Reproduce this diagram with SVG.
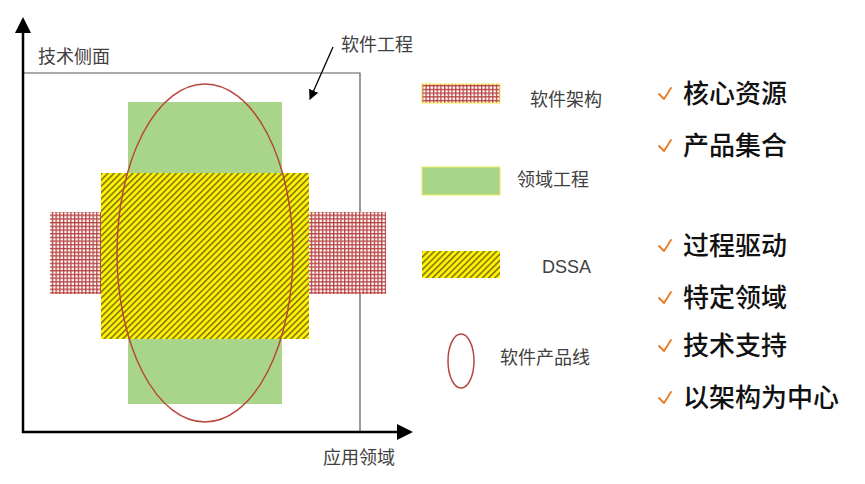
<svg xmlns="http://www.w3.org/2000/svg" width="865" height="484" viewBox="0 0 865 484">
<style>
.lbl{font-family:"Liberation Sans","Noto Sans CJK SC",sans-serif;font-size:18px;fill:#404040}
.item{font-family:"Noto Sans CJK SC",sans-serif;font-size:26px;font-weight:500;fill:#111}
.chk{fill:none;stroke:#E87722;stroke-width:1.8;stroke-linecap:round;stroke-linejoin:round}
.axis{stroke:#000;stroke-width:2.5}
.green{fill:#A9D58A}
.hatch{fill:url(#hatch)}
.grid{fill:url(#grid)}
.lp{fill:none;stroke:#B8463F;stroke-width:1.5}
</style>
<defs>
<pattern id="hatch" patternUnits="userSpaceOnUse" width="4.4" height="4.4" patternTransform="rotate(45)">
<rect width="4.4" height="4.4" fill="#FFF500"/>
<rect width="1.6" height="4.4" fill="#857510"/>
</pattern>
<pattern id="grid" patternUnits="userSpaceOnUse" width="3.7" height="3.7">
<rect width="3.7" height="3.7" fill="#fff"/>
<rect width="1.3" height="3.7" fill="#B7413F"/>
<rect width="3.7" height="1.3" fill="#B7413F"/>
</pattern>
<marker id="ah" markerWidth="10" markerHeight="10" refX="9" refY="5" orient="auto" markerUnits="userSpaceOnUse">
<path d="M0,0 L10,5 L0,10 z" fill="#000"/>
</marker>
</defs>

<g id="box">
<polyline points="23,73 360,73 360,432" fill="none" stroke="#595959" stroke-width="1.2"/>
</g>

<g id="domain-engineering">
<rect class="green" x="128" y="102" width="154" height="302"/>
</g>
<g id="dssa">
<rect class="hatch" x="101" y="173" width="208" height="166"/>
</g>
<g id="software-architecture">
<rect class="grid" x="50" y="212" width="51" height="82"/>
<rect class="grid" x="309" y="212" width="77" height="82"/>
</g>
<g id="product-line">
<ellipse class="lp" cx="205" cy="253" rx="88" ry="169"/>
</g>

<g id="axes">
<line class="axis" x1="23" y1="433" x2="23" y2="32"/>
<path d="M15,33 L23,17 L31,33 z" fill="#000"/>
<line class="axis" x1="22" y1="432" x2="398" y2="432"/>
<path d="M397,424 L413,432 L397,440 z" fill="#000"/>
</g>

<g id="connectors">
<line x1="333" y1="47" x2="310" y2="99" stroke="#000" stroke-width="1.3" marker-end="url(#ah)"/>
</g>

<g id="labels">
<text class="lbl" x="38" y="63">技术侧面</text>
<text class="lbl" x="341" y="51">软件工程</text>
<text class="lbl" x="323" y="464">应用领域</text>
</g>

<g id="legend">
<g id="legend-arch">
<rect class="grid" x="422" y="84" width="78" height="19" stroke="#F5E94A" stroke-width="1"/>
<text class="lbl" x="530" y="106">软件架构</text>
</g>
<g id="legend-domain">
<rect class="green" x="422" y="167" width="78" height="28" stroke="#EFEA5A" stroke-width="1"/>
<text class="lbl" x="517" y="186">领域工程</text>
</g>
<g id="legend-dssa">
<rect class="hatch" x="422" y="251" width="78" height="27"/>
<text class="lbl" x="542" y="273">DSSA</text>
</g>
<g id="legend-pl">
<ellipse class="lp" cx="461" cy="361" rx="13" ry="27"/>
<text class="lbl" x="500" y="364">软件产品线</text>
</g>
</g>

<g id="features">
<g id="f1"><path class="chk" d="M659,94 L664,99 L671,88"/><text class="item" x="683" y="103">核心资源</text></g>
<g id="f2"><path class="chk" d="M659,146 L664,151 L671,140"/><text class="item" x="683" y="155">产品集合</text></g>
<g id="f3"><path class="chk" d="M659,246 L664,251 L671,240"/><text class="item" x="683" y="255">过程驱动</text></g>
<g id="f4"><path class="chk" d="M659,298 L664,303 L671,292"/><text class="item" x="683" y="307">特定领域</text></g>
<g id="f5"><path class="chk" d="M659,346 L664,351 L671,340"/><text class="item" x="683" y="355">技术支持</text></g>
<g id="f6"><path class="chk" d="M659,398 L664,403 L671,392"/><text class="item" x="683" y="407">以架构为中心</text></g>
</g>
</svg>
